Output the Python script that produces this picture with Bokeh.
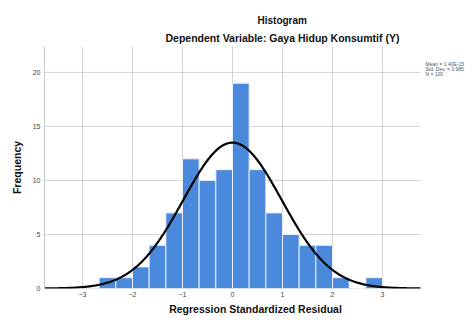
import numpy as np
from bokeh.plotting import figure
from bokeh.models import Range1d, FixedTicker, Title
from bokeh.core.properties import value
from bokeh.embed import file_html
from bokeh.resources import INLINE

# Data
bin_left = [-2.667, -2.333, -2.0, -1.667, -1.333, -1.0, -0.667, -0.333, 0.0,
            0.333, 0.667, 1.0, 1.333, 1.667, 2.0, 2.333, 2.667]
counts = [1, 1, 2, 4, 7, 12, 10, 11, 19, 11, 7, 5, 4, 4, 1, 0, 1]
bin_width = 1.0 / 3.0
mean_val = 1.40e-15
sd_val = 0.985
n_val = 100
x_ticks = [-3, -2, -1, 0, 1, 2, 3]
y_ticks = [0, 5, 10, 15, 20]
title_text = "Histogram"
subtitle_text = "Dependent Variable: Gaya Hidup Konsumtif (Y)"
x_label = "Regression Standardized Residual"
y_label = "Frequency"
stats_lines = ["Mean = 1.40E-15", "Std. Dev. = 0.985", "N = 100"]

FONT = "Liberation Sans"

X_LO, X_HI = -3.76, 3.76       # chart area
X_PAD = 4.68                   # room at the right for the statistics text
Y_LO, Y_HI = 0, 22.4

p = figure(width=466, height=317, output_backend="svg", toolbar_location=None,
           x_range=Range1d(X_LO, X_PAD), y_range=Range1d(Y_LO, Y_HI),
           min_border_left=44, min_border_right=0, min_border_top=46,
           min_border_bottom=10)
p.outline_line_color = None
p.background_fill_color = "white"
p.border_fill_color = "white"
p.xgrid.visible = False
p.ygrid.visible = False

# grid lines limited to the chart area
GRID = "#d2d2d2"
p.segment(x0=x_ticks, x1=x_ticks, y0=[Y_LO] * len(x_ticks), y1=[Y_HI] * len(x_ticks),
          line_color=GRID, line_width=1)
p.segment(x0=[X_LO] * len(y_ticks), x1=[X_HI] * len(y_ticks), y0=y_ticks, y1=y_ticks,
          line_color=GRID, line_width=1)

lefts = np.array(bin_left)
rights = lefts + bin_width
p.quad(left=lefts, right=rights, bottom=0, top=counts,
       fill_color="#4a89dc", line_color="#e8eef8", line_width=1)

xs = np.linspace(X_LO, X_HI, 400)
ys = n_val * bin_width / (sd_val * np.sqrt(2 * np.pi)) * np.exp(-0.5 * ((xs - mean_val) / sd_val) ** 2)
p.line(xs, ys, line_color="black", line_width=2.2)

for ax in (p.xaxis[0], p.yaxis[0]):
    ax.major_tick_line_color = None
    ax.minor_tick_line_color = None
    ax.major_tick_out = 0
    ax.major_tick_in = 0
    ax.minor_tick_out = 0
    ax.major_label_text_font = FONT
    ax.major_label_text_font_size = "7px"
    ax.major_label_text_color = "#444444"
    ax.axis_label_text_font = FONT
    ax.axis_label_text_font_size = "10.5px"
    ax.axis_label_text_font_style = "bold"
    ax.axis_label_text_color = "#111111"
p.xaxis.ticker = FixedTicker(ticks=x_ticks)
p.yaxis.ticker = FixedTicker(ticks=y_ticks)
p.xaxis.axis_line_color = None
p.yaxis.axis_line_color = "#c8c8c8"
p.xaxis.major_label_standoff = 3
p.yaxis.major_label_standoff = 4
p.xaxis.axis_label = x_label
p.yaxis.axis_label = y_label
p.xaxis.axis_label_standoff = 3
p.yaxis.axis_label_standoff = 7

# titles (later-added goes further from the frame)
p.add_layout(Title(text=subtitle_text, align="left", offset=121, standoff=6,
                   text_font=FONT, text_font_size="10.5px", text_font_style="bold",
                   text_color="#111111"), "above")
p.add_layout(Title(text=title_text, align="left", offset=213, standoff=1,
                   text_font=FONT, text_font_size="10px", text_font_style="bold",
                   text_color="#111111"), "above")

# statistics text, anchored at the top-right corner of the chart area
p.text(x=[X_HI] * len(stats_lines), y=[Y_HI] * len(stats_lines), text=stats_lines,
       x_offset=5, y_offset=[17 + 5 * i for i in range(len(stats_lines))],
       text_font=value(FONT), text_font_size="5px", text_color="#555555",
       text_align="left", text_baseline="middle")

open("out.html", "w").write(file_html(p, INLINE))
